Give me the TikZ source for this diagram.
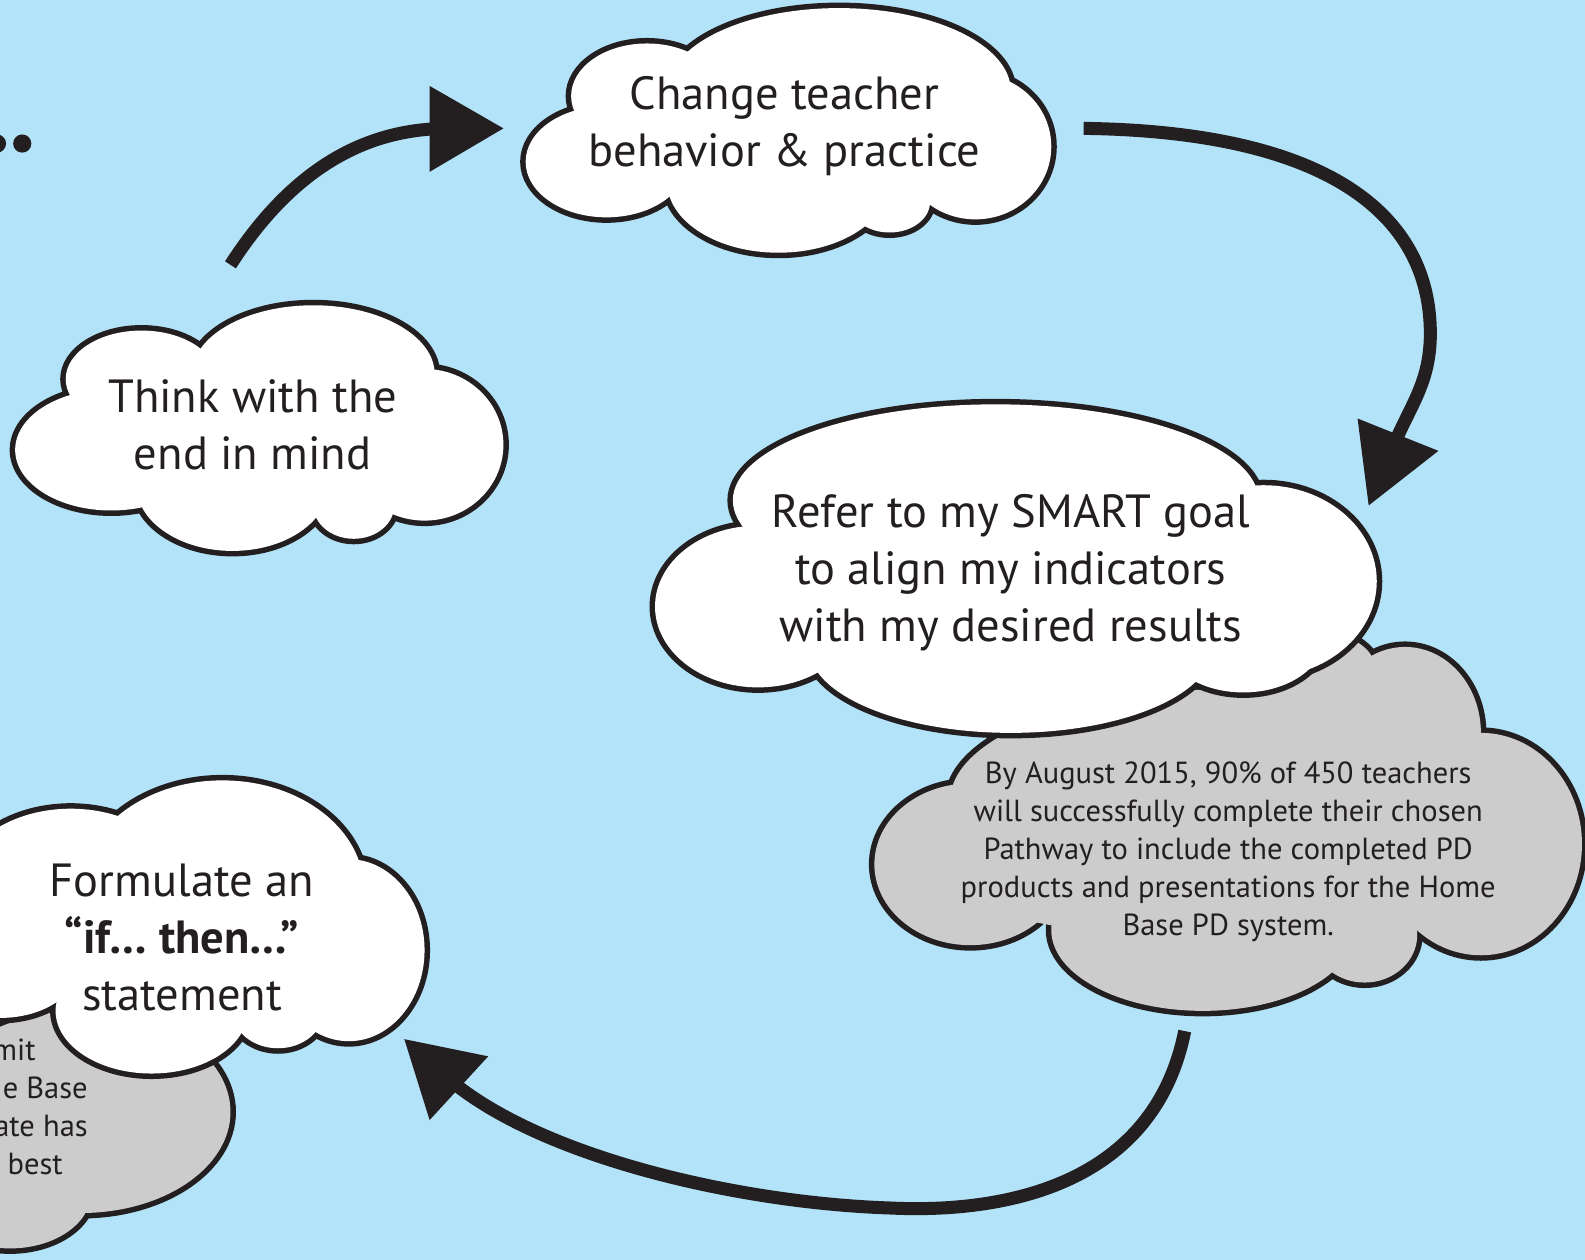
\documentclass[tikz,border=0pt]{standalone}
\usepackage{fontspec}
\setmainfont{PT Sans}
\usetikzlibrary{calc}
\definecolor{skyback}{HTML}{B3E3F8}
\definecolor{inkblack}{HTML}{231F20}
\definecolor{puffgray}{HTML}{CCCCCC}
\tikzset{
  bigtext/.style={text=inkblack, align=center, inner sep=0pt, font=\fontsize{46.5}{57}\selectfont},
  smalltext/.style={text=inkblack, align=center, inner sep=0pt, font=\fontsize{30.5}{38}\selectfont},
  loopshaft/.style={line width=13pt, draw=inkblack},
  loophead/.style={fill=inkblack}
}
% cloud = union of puffs cx/cy/rx/ry: black rim first, then the fill;
% the third list only fills the middle
\newcommand{\puffcloud}[3]{%
  \foreach \cx/\cy/\rx/\ry in {#2}
    \draw[inkblack, line width=11pt] (\cx,\cy) ellipse[x radius=\rx, y radius=\ry];
  \foreach \cx/\cy/\rx/\ry in {#2,#3}
    \fill[#1] (\cx,\cy) ellipse[x radius=\rx, y radius=\ry];
}

\begin{document}
\begin{tikzpicture}[x=1.0108pt, y=-1.0108pt]
	\useasboundingbox (0,0) rectangle (1568,1246);
	\clip (0,0) rectangle (1568,1246);
	\fill[skyback] (0,0) rectangle (1568,1246);

	% dots of the cut-off title
	\fill[inkblack] (-3,142) circle[radius=9];
	\fill[inkblack] (22,142) circle[radius=9];

	% clouds
	\puffcloud{white}{600/160/80/55, 640/95/75/52, 830/90/170/82, 965/145/75/72, 880/200/40/30, 770/180/110/70}{780/140/200/50}
	\puffcloud{white}{140/375/75/48, 310/370/120/68, 420/440/78/75, 350/500/40/33, 230/480/95/65, 110/445/95/60}{255/440/160/45}
	\puffcloud{puffgray}{960/855/95/80, 1210/792/270/110, 1280/660/80/40, 1190/920/150/80, 1350/925/52/47, 1465/835/100/110, 1390/725/75/85}{1215/840/320/90, 1330/700/45/25}
	\puffcloud{white}{985/495/260/95, 1250/575/112/95, 1230/630/80/55, 1000/640/200/85, 750/600/102/80}{1000/575/320/65}
	\puffcloud{puffgray}{80/1100/148/100, 10/1180/80/55}{80/1100/10/10}
	\puffcloud{white}{70/885/115/85, 220/880/140/108, 345/940/75/90, 275/1000/45/37, 150/1000/95/62, 0/960/75/47}{180/935/200/55}

	% texts
	\node[bigtext] (change) at (776,125) {Change teacher\\behavior \& practice};
	\node[bigtext] (think) at (250,420) {Think with the\\end in mind};
	\node[bigtext] (smart) at (1000,567) {Refer to my SMART goal\\to align my indicators\\with my desired results};
	\node[smalltext] (goal) at (1215,843) {By August 2015, 90\% of 450 teachers\\will successfully complete their chosen\\Pathway to include the completed PD\\products and presentations for the Home\\Base PD system.};
	\node[bigtext] (formulate) at (180,927) {Formulate an\\\textbf{“if… then…”}\\statement};
	\node[smalltext, align=right, anchor=north east] (pathway) at (87,1028) {mit\hspace*{52pt}\\e Base\hspace*{14pt}\\ate has\\best\hspace*{25pt}};

	% arrows round the loop
	\draw[loopshaft] ($(think)+(-22,-158)$) .. controls ($(think)+(50,-270)$) and ($(think)+(130,-293)$) .. ($(change)+(-331,2)$);
	\fill[loophead] ($(change)+(-351,-40)$) -- ($(change)+(-278,2)$) -- ($(change)+(-351,45)$) -- cycle;

	\draw[loopshaft] ($(change)+(296,2)$) .. controls ($(change)+(534,5)$) and ($(change)+(639,85)$) .. ($(change)+(639,205)$)
		.. controls ($(smart)+(415,-187)$) and ($(smart)+(394,-165)$) .. ($(smart)+(376,-120)$);
	\fill[loophead] ($(smart)+(343,-153)$) -- ($(smart)+(354,-67)$) -- ($(smart)+(423,-121)$) -- cycle;

	\draw[loopshaft] ($(goal)+(-43,177)$) .. controls ($(goal)+(-75,337)$) and ($(goal)+(-235,357)$) .. ($(goal)+(-335,352)$)
		.. controls ($(formulate)+(550,263)$) and ($(formulate)+(350,217)$) .. ($(formulate)+(260,137)$);
	\fill[loophead] ($(formulate)+(245,181)$) -- ($(formulate)+(220,101)$) -- ($(formulate)+(303,118)$) -- cycle;
\end{tikzpicture}
\end{document}
